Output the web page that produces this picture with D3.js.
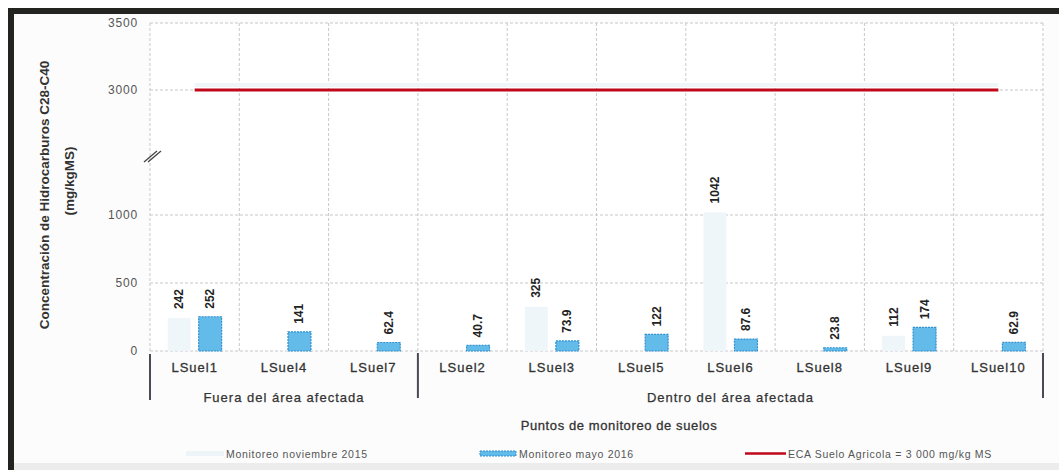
<!DOCTYPE html>
<html>
<head>
<meta charset="utf-8">
<script src="https://cdn.jsdelivr.net/npm/d3@7"></script>
<style>
  body { margin: 0; background: #fff; }
  text { font-family: "Liberation Sans", Arial, sans-serif; }
</style>
</head>
<body>
<svg id="chart" width="1059" height="470"></svg>
<script>
// data
const categories = ["LSuel1", "LSuel4", "LSuel7", "LSuel2", "LSuel3", "LSuel5", "LSuel6", "LSuel8", "LSuel9", "LSuel10"];
const nov2015 = [242, null, null, null, 325, null, 1042, null, 112, null];
const may2016 = [252, 141, 62.4, 40.7, 73.9, 122, 87.6, 23.8, 174, 62.9];
const ecaLimit = [3000, 3000, 3000, 3000, 3000, 3000, 3000, 3000, 3000, 3000];
const groupNames = ["Fuera del área afectada", "Dentro del área afectada"];
const groupSizes = [3, 7];
const yTicks = [0, 500, 1000, 3000, 3500];
const seriesNames = ["Monitoreo noviembre 2015", "Monitoreo mayo 2016", "ECA Suelo Agricola = 3 000 mg/kg MS"];

const svg = d3.select('#chart');
const plotL = 150, plotR = 1043, plotT = 23, plotB = 351;

// frame of the scanned page
svg.append('rect').attr('x', 14).attr('y', 14).attr('width', 1045).attr('height', 449).attr('fill', '#fcfcfc');
svg.append('rect').attr('x', 14).attr('y', 463).attr('width', 1045).attr('height', 7).attr('fill', '#ececec');
svg.append('rect').attr('x', 8).attr('y', 8).attr('width', 1051).attr('height', 6).attr('fill', '#23241f');
svg.append('rect').attr('x', 8).attr('y', 8).attr('width', 6).attr('height', 462).attr('fill', '#23241f');
svg.append('rect').attr('x', plotL).attr('y', plotT).attr('width', plotR - plotL).attr('height', plotB - plotT).attr('fill', '#ffffff');

const x0 = d3.scaleBand().domain(categories).range([plotL, plotR]);
const x1 = d3.scaleBand().domain(['nov', 'may']).range([0, x0.bandwidth()]).paddingInner(0.26).paddingOuter(0.57);
// broken axis: 1000..3000 is squeezed
const y = d3.scaleLinear().domain([0, 1000, 3000, 3500]).range([plotB, 215, 90, plotT]);

// grid
const grid = svg.append('g').attr('stroke', '#c8c8cc').attr('stroke-dasharray', '3,2').attr('stroke-width', 1);
yTicks.forEach(t => {
  grid.append('line').attr('x1', plotL).attr('x2', plotR).attr('y1', y(t)).attr('y2', y(t));
});
categories.forEach(c => {
  grid.append('line').attr('x1', x0(c)).attr('x2', x0(c)).attr('y1', plotT).attr('y2', plotB);
});
grid.append('line').attr('x1', plotR).attr('x2', plotR).attr('y1', plotT).attr('y2', plotB);

// y axis labels
const yAxis = svg.append('g')
  .attr('transform', 'translate(' + (plotL - 12) + ',0)')
  .call(d3.axisLeft(y).tickValues(yTicks).tickSize(0).tickPadding(0).tickFormat(d3.format('d')));
yAxis.select('.domain').remove();
yAxis.selectAll('text')
  .attr('font-size', 12).attr('fill', '#555').attr('letter-spacing', 0.8)
  .style('font-family', '"Liberation Sans", Arial, sans-serif');

// break marker
const brk = svg.append('g').attr('stroke', '#444').attr('stroke-width', 1.3);
[0, 4].forEach(o => {
  brk.append('line').attr('x1', 144 + o).attr('y1', 162).attr('x2', 157 + o).attr('y2', 151);
});

// bars
const cats = svg.append('g').selectAll('g').data(categories).join('g')
  .attr('transform', d => 'translate(' + x0(d) + ',0)');

cats.each(function(c, i) {
  const g = d3.select(this);
  if (nov2015[i] != null) {
    g.append('rect')
      .attr('x', x1('nov')).attr('width', x1.bandwidth())
      .attr('y', y(nov2015[i])).attr('height', y(0) - y(nov2015[i]))
      .attr('fill', '#eff6fa');
    g.append('text')
      .attr('transform', 'translate(' + (x1('nov') + x1.bandwidth() / 2 + 4) + ',' + (y(nov2015[i]) - 9) + ') rotate(-90)')
      .attr('font-size', 12).attr('font-weight', 'bold').attr('fill', '#222')
      .text(nov2015[i]);
  }
  g.append('rect')
    .attr('x', x1('may')).attr('width', x1.bandwidth())
    .attr('y', y(may2016[i])).attr('height', y(0) - y(may2016[i]))
    .attr('fill', '#63bbea').attr('stroke', '#2e8fcc').attr('stroke-width', 1.2).attr('stroke-dasharray', '2,1');
  g.append('text')
    .attr('transform', 'translate(' + (x1('may') + x1.bandwidth() / 2 + 4) + ',' + (y(may2016[i]) - 8) + ') rotate(-90)')
    .attr('font-size', 12).attr('font-weight', 'bold').attr('fill', '#222')
    .text(may2016[i]);
});

// ECA line through the category centres
const line = d3.line()
  .x((d, i) => x0(categories[i]) + x0.bandwidth() / 2)
  .y(d => y(d));
svg.append('path').datum(ecaLimit).attr('d', line)
  .attr('fill', 'none').attr('stroke', '#eef6f9').attr('stroke-width', 4)
  .attr('transform', 'translate(0,-5)');
svg.append('path').datum(ecaLimit).attr('d', line)
  .attr('fill', 'none').attr('stroke', '#c0081c').attr('stroke-width', 3);

// category labels
svg.append('g').selectAll('text').data(categories).join('text')
  .attr('x', d => x0(d) + x0.bandwidth() / 2).attr('y', 372)
  .attr('text-anchor', 'middle').attr('font-size', 13).attr('letter-spacing', 1)
  .attr('fill', '#333').attr('stroke', '#333').attr('stroke-width', 0.3)
  .text(d => d);

// group labels and separators
let start = 0;
const sep = svg.append('g').attr('stroke', '#4a4a55').attr('stroke-width', 2);
sep.append('line').attr('x1', plotL).attr('x2', plotL).attr('y1', 354).attr('y2', 400);
groupNames.forEach((name, k) => {
  const a = x0(categories[start]);
  const b = x0(categories[start + groupSizes[k] - 1]) + x0.bandwidth();
  sep.append('line').attr('x1', b).attr('x2', b).attr('y1', 353).attr('y2', 398);
  svg.append('text')
    .attr('x', (a + b) / 2).attr('y', 402)
    .attr('text-anchor', 'middle').attr('font-size', 13).attr('letter-spacing', 1)
    .attr('fill', '#333').attr('stroke', '#333').attr('stroke-width', 0.25)
    .text(name);
  start += groupSizes[k];
});

// axis titles
svg.append('text')
  .attr('x', 619).attr('y', 430).attr('text-anchor', 'middle')
  .attr('font-size', 13).attr('letter-spacing', 0.6).attr('fill', '#333')
  .attr('stroke', '#333').attr('stroke-width', 0.3)
  .text('Puntos de monitoreo de suelos');

const yt = svg.append('text')
  .attr('transform', 'translate(49,195) rotate(-90)')
  .attr('text-anchor', 'middle').attr('font-size', 13.5).attr('font-weight', 'bold').attr('fill', '#333');
yt.append('tspan').attr('x', 0).attr('dy', 0).text('Concentración de Hidrocarburos C28-C40');
yt.append('tspan').attr('x', 14).attr('dy', 25).text('(mg/kgMS)');

// legend
const legend = svg.append('g').attr('font-size', 10.5).attr('fill', '#555').attr('letter-spacing', 0.7);
legend.append('rect').attr('x', 186).attr('y', 451).attr('width', 38).attr('height', 5).attr('fill', '#edf5f9');
legend.append('text').attr('x', 226).attr('y', 458).text(seriesNames[0]);
legend.append('rect').attr('x', 480).attr('y', 451).attr('width', 36).attr('height', 5)
  .attr('fill', '#63bbea').attr('stroke', '#2e8fcc').attr('stroke-dasharray', '2,1');
legend.append('text').attr('x', 519).attr('y', 458).text(seriesNames[1]);
legend.append('line').attr('x1', 745).attr('x2', 786).attr('y1', 453.5).attr('y2', 453.5)
  .attr('stroke', '#c0081c').attr('stroke-width', 2.5);
legend.append('text').attr('x', 788).attr('y', 458).text(seriesNames[2]);
</script>
</body>
</html>
